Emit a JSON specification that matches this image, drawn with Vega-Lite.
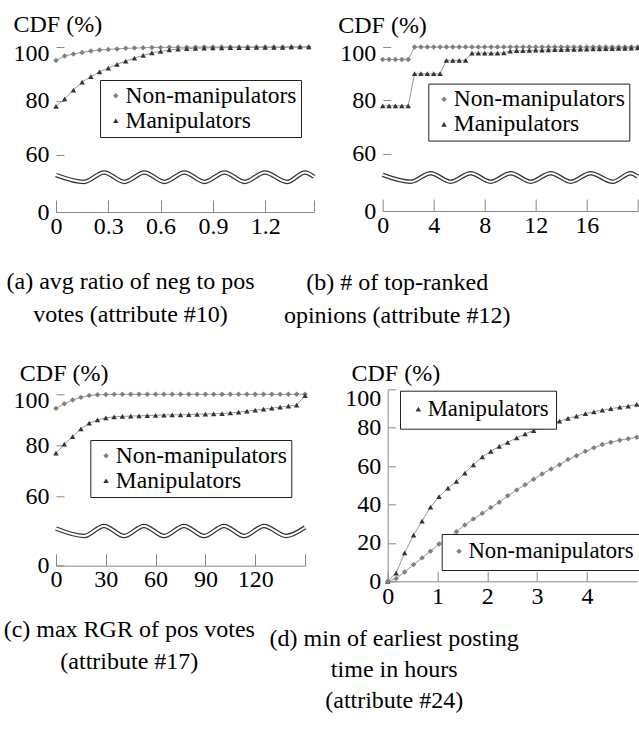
{
"$schema": "https://vega.github.io/schema/vega-lite/v6.json",
"background": "white",
"padding": {"left": 3, "top": 12, "right": 0, "bottom": 0},
"config": {
  "view": {"stroke": null},
  "font": "Liberation Serif",
  "style": {"guide-label": {"font": "Liberation Serif"}, "guide-title": {"font": "Liberation Serif"}},
  "axis": {"labelFont": "Liberation Serif", "labelFontSize": 24, "labelColor": "#000", "tickColor": "#888", "domainColor": "#888", "tickWidth": 1, "domainWidth": 1, "grid": false, "labelFlush": false, "labelOverlap": false, "titleFont": "Liberation Serif", "titleFontSize": 24, "titleFontWeight": "normal", "titleColor": "#000", "titlePadding": 0},
  "legend": {"labelFont": "Liberation Serif", "labelFontSize": 23.5, "labelColor": "#000", "labelLimit": 400, "strokeColor": "#222", "fillColor": "#fff", "padding": 4, "rowPadding": 0, "symbolSize": 30, "labelOffset": -2, "direction": "vertical"},
  "title": {"font": "Liberation Serif", "fontSize": 24, "fontWeight": "normal", "color": "#000"}
},
"datasets": {
  "a": [
    {"x":0,"Non-manipulators":95.0,"Manipulators":78},{"x":0.05,"Non-manipulators":96.7,"Manipulators":80.8},{"x":0.1,"Non-manipulators":97.4,"Manipulators":84},{"x":0.15,"Non-manipulators":98,"Manipulators":87},{"x":0.2,"Non-manipulators":98.5,"Manipulators":89},{"x":0.25,"Non-manipulators":98.9,"Manipulators":90.8},{"x":0.3,"Non-manipulators":99.1,"Manipulators":92.2},{"x":0.35,"Non-manipulators":99.3,"Manipulators":93.6},{"x":0.4,"Non-manipulators":99.5,"Manipulators":94.8},{"x":0.45,"Non-manipulators":99.6,"Manipulators":95.9},{"x":0.5,"Non-manipulators":99.7,"Manipulators":96.9},{"x":0.55,"Non-manipulators":99.8,"Manipulators":97.8},{"x":0.6,"Non-manipulators":99.85,"Manipulators":98.4},{"x":0.65,"Non-manipulators":99.9,"Manipulators":98.9},{"x":0.7,"Non-manipulators":99.9,"Manipulators":99.2},{"x":0.75,"Non-manipulators":99.95,"Manipulators":99.4},{"x":0.8,"Non-manipulators":99.95,"Manipulators":99.5},{"x":0.85,"Non-manipulators":100,"Manipulators":99.6},{"x":0.9,"Non-manipulators":100,"Manipulators":99.7},{"x":0.95,"Non-manipulators":100,"Manipulators":99.7},{"x":1,"Non-manipulators":100,"Manipulators":99.8},{"x":1.05,"Non-manipulators":100,"Manipulators":99.8},{"x":1.1,"Non-manipulators":100,"Manipulators":99.8},{"x":1.15,"Non-manipulators":100,"Manipulators":99.9},{"x":1.2,"Non-manipulators":100,"Manipulators":99.9},{"x":1.25,"Non-manipulators":100,"Manipulators":99.9},{"x":1.3,"Non-manipulators":100,"Manipulators":99.9},{"x":1.35,"Non-manipulators":100,"Manipulators":100},{"x":1.4,"Non-manipulators":100,"Manipulators":100},{"x":1.45,"Non-manipulators":100,"Manipulators":100}
  ],
  "b": [
    {"x":0,"Non-manipulators":95.3,"Manipulators":78},{"x":0.5,"Non-manipulators":95.3,"Manipulators":78},{"x":1,"Non-manipulators":95.3,"Manipulators":78},{"x":1.5,"Non-manipulators":95.3,"Manipulators":78},{"x":2,"Non-manipulators":95.3,"Manipulators":78},{"x":2.5,"Non-manipulators":100,"Manipulators":90},{"x":3,"Non-manipulators":100,"Manipulators":90},{"x":3.5,"Non-manipulators":100,"Manipulators":90},{"x":4,"Non-manipulators":100,"Manipulators":90},{"x":4.5,"Non-manipulators":100,"Manipulators":90},{"x":5,"Non-manipulators":100,"Manipulators":95},{"x":5.5,"Non-manipulators":100,"Manipulators":95},{"x":6,"Non-manipulators":100,"Manipulators":95},{"x":6.5,"Non-manipulators":100,"Manipulators":95},{"x":7,"Non-manipulators":100,"Manipulators":97.7},{"x":7.5,"Non-manipulators":100,"Manipulators":97.7},{"x":8,"Non-manipulators":100,"Manipulators":97.7},{"x":8.5,"Non-manipulators":100,"Manipulators":97.7},{"x":9,"Non-manipulators":100,"Manipulators":97.7},{"x":9.5,"Non-manipulators":100,"Manipulators":97.8},{"x":10,"Non-manipulators":100,"Manipulators":98.5},{"x":10.5,"Non-manipulators":100,"Manipulators":98.6},{"x":11,"Non-manipulators":100,"Manipulators":98.6},{"x":11.5,"Non-manipulators":100,"Manipulators":98.7},{"x":12,"Non-manipulators":100,"Manipulators":98.8},{"x":12.5,"Non-manipulators":100,"Manipulators":98.8},{"x":13,"Non-manipulators":100,"Manipulators":98.9},{"x":13.5,"Non-manipulators":100,"Manipulators":99},{"x":14,"Non-manipulators":100,"Manipulators":99},{"x":14.5,"Non-manipulators":100,"Manipulators":99.1},{"x":15,"Non-manipulators":100,"Manipulators":99.1},{"x":15.5,"Non-manipulators":100,"Manipulators":99.2},{"x":16,"Non-manipulators":100,"Manipulators":99.2},{"x":16.5,"Non-manipulators":100,"Manipulators":99.3},{"x":17,"Non-manipulators":100,"Manipulators":99.3},{"x":17.5,"Non-manipulators":100,"Manipulators":99.4},{"x":18,"Non-manipulators":100,"Manipulators":99.4},{"x":18.5,"Non-manipulators":100,"Manipulators":99.5},{"x":19,"Non-manipulators":100,"Manipulators":99.5},{"x":19.5,"Non-manipulators":100,"Manipulators":99.6},{"x":20,"Non-manipulators":100,"Manipulators":99.7}
  ],
  "c": [
    {"x":0,"Non-manipulators":94.5,"Manipulators":77},{"x":5,"Non-manipulators":96.3,"Manipulators":80.5},{"x":10,"Non-manipulators":97.8,"Manipulators":83.5},{"x":15,"Non-manipulators":98.8,"Manipulators":86.5},{"x":20,"Non-manipulators":99.5,"Manipulators":88.7},{"x":25,"Non-manipulators":99.8,"Manipulators":90},{"x":30,"Non-manipulators":99.9,"Manipulators":90.8},{"x":35,"Non-manipulators":100,"Manipulators":91.2},{"x":40,"Non-manipulators":100,"Manipulators":91.4},{"x":45,"Non-manipulators":100,"Manipulators":91.5},{"x":50,"Non-manipulators":100,"Manipulators":91.6},{"x":55,"Non-manipulators":100,"Manipulators":91.7},{"x":60,"Non-manipulators":100,"Manipulators":91.8},{"x":65,"Non-manipulators":100,"Manipulators":91.9},{"x":70,"Non-manipulators":100,"Manipulators":92},{"x":75,"Non-manipulators":100,"Manipulators":92},{"x":80,"Non-manipulators":100,"Manipulators":92.1},{"x":85,"Non-manipulators":100,"Manipulators":92.2},{"x":90,"Non-manipulators":100,"Manipulators":92.3},{"x":95,"Non-manipulators":100,"Manipulators":92.4},{"x":100,"Non-manipulators":100,"Manipulators":92.5},{"x":105,"Non-manipulators":100,"Manipulators":92.7},{"x":110,"Non-manipulators":100,"Manipulators":93},{"x":115,"Non-manipulators":100,"Manipulators":93.4},{"x":120,"Non-manipulators":100,"Manipulators":93.8},{"x":125,"Non-manipulators":100,"Manipulators":94.2},{"x":130,"Non-manipulators":100,"Manipulators":94.6},{"x":135,"Non-manipulators":100,"Manipulators":95},{"x":140,"Non-manipulators":100,"Manipulators":95.4},{"x":145,"Non-manipulators":100,"Manipulators":95.8},{"x":150,"Non-manipulators":100,"Manipulators":99.5}
  ],
  "d": [
    {"x":0,"Non-manipulators":0,"Manipulators":0},{"x":0.17,"Non-manipulators":1.4,"Manipulators":4.3},{"x":0.34,"Non-manipulators":4.9,"Manipulators":14.8},{"x":0.52,"Non-manipulators":8.7,"Manipulators":24.1},{"x":0.69,"Non-manipulators":12.2,"Manipulators":31.4},{"x":0.86,"Non-manipulators":15.7,"Manipulators":38.6},{"x":1.03,"Non-manipulators":19.4,"Manipulators":44.1},{"x":1.21,"Non-manipulators":22.3,"Manipulators":48.5},{"x":1.38,"Non-manipulators":25.8,"Manipulators":52},{"x":1.55,"Non-manipulators":29.3,"Manipulators":56.4},{"x":1.72,"Non-manipulators":32.4,"Manipulators":60.7},{"x":1.9,"Non-manipulators":35.4,"Manipulators":64.8},{"x":2.07,"Non-manipulators":38.4,"Manipulators":67.7},{"x":2.24,"Non-manipulators":41.2,"Manipulators":70.3},{"x":2.41,"Non-manipulators":44.5,"Manipulators":72.4},{"x":2.59,"Non-manipulators":47.6,"Manipulators":74.7},{"x":2.76,"Non-manipulators":50.3,"Manipulators":76.8},{"x":2.93,"Non-manipulators":53.2,"Manipulators":78.5},{"x":3.1,"Non-manipulators":55.9,"Manipulators":80.3},{"x":3.28,"Non-manipulators":58.5,"Manipulators":82},{"x":3.45,"Non-manipulators":60.7,"Manipulators":83.4},{"x":3.62,"Non-manipulators":63.4,"Manipulators":84.8},{"x":3.79,"Non-manipulators":65.4,"Manipulators":86},{"x":3.97,"Non-manipulators":67.7,"Manipulators":87.3},{"x":4.14,"Non-manipulators":69.5,"Manipulators":88.3},{"x":4.31,"Non-manipulators":71.2,"Manipulators":89.2},{"x":4.48,"Non-manipulators":72.4,"Manipulators":89.9},{"x":4.66,"Non-manipulators":73.5,"Manipulators":90.7},{"x":4.83,"Non-manipulators":74.3,"Manipulators":91.3},{"x":5,"Non-manipulators":75,"Manipulators":92.1}
  ],
  "waveA": [
    {"x":0,"cdf":43},{"x":0.161,"cdf":35},{"x":0.276,"cdf":46},{"x":0.392,"cdf":35},{"x":0.507,"cdf":46},{"x":0.622,"cdf":35},{"x":0.737,"cdf":46},{"x":0.852,"cdf":35},{"x":0.967,"cdf":46},{"x":1.083,"cdf":35},{"x":1.198,"cdf":46},{"x":1.325,"cdf":35},{"x":1.428,"cdf":46},{"x":1.48,"cdf":41}
  ],
  "waveB": [
    {"x":0,"cdf":42},{"x":2.2,"cdf":34},{"x":3.76,"cdf":44},{"x":5.33,"cdf":34},{"x":6.9,"cdf":44},{"x":8.47,"cdf":34},{"x":10.04,"cdf":44},{"x":11.61,"cdf":34},{"x":13.18,"cdf":44},{"x":14.75,"cdf":34},{"x":16.31,"cdf":44},{"x":18.04,"cdf":34},{"x":19.45,"cdf":44},{"x":20,"cdf":40}
  ],
  "waveC": [
    {"x":0,"cdf":35},{"x":16.9,"cdf":28},{"x":28.9,"cdf":37.5},{"x":41,"cdf":28},{"x":53,"cdf":37.5},{"x":65.1,"cdf":28},{"x":77.1,"cdf":37.5},{"x":89.2,"cdf":28},{"x":101.2,"cdf":37.5},{"x":113.3,"cdf":28},{"x":125.3,"cdf":37.5},{"x":138.6,"cdf":28},{"x":150,"cdf":36}
  ]
},
"spacing": 342.3,
"bounds": "flush",
"resolve": {"scale": {"x": "independent", "y": "independent", "shape": "independent", "color": "independent"}, "legend": {"shape": "independent", "color": "independent"}},
"vconcat": [
  {
    "hconcat": [
      {
        "width": 258, "height": 165,
        "title": {"text": ["(a) avg ratio of neg to pos", "votes (attribute #10)"], "orient": "bottom", "anchor": "middle", "frame": "group", "dx": -54.5, "offset": 32, "lineHeight": 33},
        "data": {"name": "a"},
        "encoding": {
          "x": {"field": "x", "type": "quantitative", "scale": {"domain": [0, 1.48], "nice": false, "zero": false},
                "axis": {"title": null, "values": [0, 0.3, 0.6, 0.9, 1.2, 1.48], "format": "~r", "labelExpr": "datum.value > 1.3 ? '' : datum.label", "tickSize": -12, "labelPadding": 14}},
          "y": {"field": "cdf", "type": "quantitative", "scale": {"domain": [0, 57, 100], "range": [165, 116, 0], "nice": false, "zero": false},
                "axis": {"title": "CDF (%)", "values": [0, 60, 80, 100], "domain": false, "tickSize": -8, "labelPadding": 15, "labelOffset": {"condition": {"test": "datum.value === 100", "value": 6}, "value": 0}, "titleAngle": 0, "titleAlign": "left", "titleBaseline": "alphabetic", "titleX": -43, "titleY": -16}}
        },
        "layer": [
          {"data": {"name": "waveA"}, "mark": {"type": "line", "interpolate": "monotone", "color": "#333", "strokeWidth": 4.5}, "encoding": {}},
          {"data": {"name": "waveA"}, "mark": {"type": "line", "interpolate": "monotone", "color": "#fff", "strokeWidth": 2}, "encoding": {}},
          {"data": {"values": [{}]}, "mark": {"type": "rule", "color": "#888", "strokeWidth": 1}, "encoding": {"x": {"datum": 0}, "y": {"datum": 57}, "y2": {"datum": 100}}},
          {"data": {"values": [{}]}, "mark": {"type": "rule", "color": "#888", "strokeWidth": 1}, "encoding": {"x": {"datum": 1.48}, "y": {"datum": 57}, "y2": {"datum": 100}}},
          {"data": {"values": [{}]}, "mark": {"type": "rule", "color": "#888", "strokeWidth": 1}, "encoding": {"y": {"datum": 100}, "x": {"datum": 0}, "x2": {"datum": 1.48}}},
          {"transform": [{"fold": ["Non-manipulators", "Manipulators"], "as": ["group", "cdf"]}], "mark": {"type": "line", "color": "#999", "strokeWidth": 1}, "encoding": {"detail": {"field": "group"}}},
          {"transform": [{"fold": ["Non-manipulators", "Manipulators"], "as": ["group", "cdf"]}], "mark": {"type": "point", "filled": true, "opacity": 1, "size": 30},
           "encoding": {
             "shape": {"field": "group", "type": "nominal", "scale": {"domain": ["Non-manipulators", "Manipulators"], "range": ["diamond", "triangle-up"]}, "legend": {"title": null, "orient": "none", "legendX": 44, "legendY": 33}},
             "color": {"field": "group", "type": "nominal", "scale": {"domain": ["Non-manipulators", "Manipulators"], "range": ["#808080", "#333333"]}, "legend": {"title": null, "orient": "none", "legendX": 44, "legendY": 33}}
           }}
        ]
      },
      {
        "width": 255, "height": 164,
        "title": {"text": ["(b) # of top-ranked", "opinions (attribute #12)"], "orient": "bottom", "anchor": "middle", "frame": "group", "dx": -113, "offset": 34, "lineHeight": 33},
        "data": {"name": "b"},
        "encoding": {
          "x": {"field": "x", "type": "quantitative", "scale": {"domain": [0, 20], "nice": false, "zero": false},
                "axis": {"title": null, "values": [0, 4, 8, 12, 16, 20], "format": "~r", "labelExpr": "datum.value > 18 ? '' : datum.label", "tickSize": -12, "labelPadding": 14}},
          "y": {"field": "cdf", "type": "quantitative", "scale": {"domain": [0, 57, 100], "range": [164, 115, 0], "nice": false, "zero": false},
                "axis": {"title": "CDF (%)", "values": [0, 60, 80, 100], "domain": false, "tickSize": -8, "labelPadding": 15, "labelOffset": {"condition": {"test": "datum.value === 100", "value": 6}, "value": 0}, "titleAngle": 0, "titleAlign": "left", "titleBaseline": "alphabetic", "titleX": -45, "titleY": -15}}
        },
        "layer": [
          {"data": {"name": "waveB"}, "mark": {"type": "line", "interpolate": "monotone", "color": "#333", "strokeWidth": 4.5}, "encoding": {}},
          {"data": {"name": "waveB"}, "mark": {"type": "line", "interpolate": "monotone", "color": "#fff", "strokeWidth": 2}, "encoding": {}},
          {"data": {"values": [{}]}, "mark": {"type": "rule", "color": "#888", "strokeWidth": 1}, "encoding": {"x": {"datum": 0}, "y": {"datum": 57}, "y2": {"datum": 100}}},
          {"data": {"values": [{}]}, "mark": {"type": "rule", "color": "#888", "strokeWidth": 1}, "encoding": {"x": {"datum": 20}, "y": {"datum": 57}, "y2": {"datum": 100}}},
          {"data": {"values": [{}]}, "mark": {"type": "rule", "color": "#888", "strokeWidth": 1}, "encoding": {"y": {"datum": 100}, "x": {"datum": 0}, "x2": {"datum": 20}}},
          {"transform": [{"fold": ["Non-manipulators", "Manipulators"], "as": ["group", "cdf"]}], "mark": {"type": "line", "color": "#999", "strokeWidth": 1}, "encoding": {"detail": {"field": "group"}}},
          {"transform": [{"fold": ["Non-manipulators", "Manipulators"], "as": ["group", "cdf"]}], "mark": {"type": "point", "filled": true, "opacity": 1, "size": 30},
           "encoding": {
             "shape": {"field": "group", "type": "nominal", "scale": {"domain": ["Non-manipulators", "Manipulators"], "range": ["diamond", "triangle-up"]}, "legend": {"title": null, "orient": "none", "legendX": 45.6, "legendY": 36.6}},
             "color": {"field": "group", "type": "nominal", "scale": {"domain": ["Non-manipulators", "Manipulators"], "range": ["#808080", "#333333"]}, "legend": {"title": null, "orient": "none", "legendX": 45.6, "legendY": 36.6}}
           }}
        ]
      }
    ],
    "spacing": 68.7,
    "bounds": "flush",
    "resolve": {"scale": {"x": "independent", "y": "independent", "shape": "independent", "color": "independent"}, "legend": {"shape": "independent", "color": "independent"}}
  },
  {
    "hconcat": [
      {
        "width": 249, "height": 176.4,
        "title": {"text": ["(c) max RGR of pos votes", "(attribute #17)"], "orient": "bottom", "anchor": "middle", "frame": "group", "dx": -51.2, "offset": 26, "lineHeight": 32},
        "data": {"name": "c"},
        "encoding": {
          "x": {"field": "x", "type": "quantitative", "scale": {"domain": [0, 150], "nice": false, "zero": false},
                "axis": {"title": null, "values": [0, 30, 60, 90, 120, 150], "format": "~r", "labelExpr": "datum.value > 130 ? '' : datum.label", "tickSize": -12, "labelPadding": 14}},
          "y": {"field": "cdf", "type": "quantitative", "scale": {"domain": [0, 56.5, 100], "range": [176.4, 116.4, 5], "nice": false, "zero": false},
                "axis": {"title": "CDF (%)", "values": [0, 60, 80, 100], "domain": false, "tickSize": -8, "labelPadding": 15, "labelOffset": {"condition": {"test": "datum.value === 100", "value": 6}, "value": 0}, "titleAngle": 0, "titleAlign": "left", "titleBaseline": "alphabetic", "titleX": -36.7, "titleY": -9}}
        },
        "layer": [
          {"data": {"name": "waveC"}, "mark": {"type": "line", "interpolate": "monotone", "color": "#333", "strokeWidth": 4.5}, "encoding": {}},
          {"data": {"name": "waveC"}, "mark": {"type": "line", "interpolate": "monotone", "color": "#fff", "strokeWidth": 2}, "encoding": {}},
          {"data": {"values": [{}]}, "mark": {"type": "rule", "color": "#888", "strokeWidth": 1}, "encoding": {"x": {"datum": 0}, "y": {"datum": 56.5}, "y2": {"datum": 100}}},
          {"data": {"values": [{}]}, "mark": {"type": "rule", "color": "#888", "strokeWidth": 1}, "encoding": {"x": {"datum": 150}, "y": {"datum": 56.5}, "y2": {"datum": 100}}},
          {"data": {"values": [{}]}, "mark": {"type": "rule", "color": "#888", "strokeWidth": 1}, "encoding": {"y": {"datum": 100}, "x": {"datum": 0}, "x2": {"datum": 150}}},
          {"transform": [{"fold": ["Non-manipulators", "Manipulators"], "as": ["group", "cdf"]}], "mark": {"type": "line", "color": "#999", "strokeWidth": 1}, "encoding": {"detail": {"field": "group"}}},
          {"transform": [{"fold": ["Non-manipulators", "Manipulators"], "as": ["group", "cdf"]}], "mark": {"type": "point", "filled": true, "opacity": 1, "size": 30},
           "encoding": {
             "shape": {"field": "group", "type": "nominal", "scale": {"domain": ["Non-manipulators", "Manipulators"], "range": ["diamond", "triangle-up"]}, "legend": {"title": null, "orient": "none", "legendX": 34.3, "legendY": 50.7}},
             "color": {"field": "group", "type": "nominal", "scale": {"domain": ["Non-manipulators", "Manipulators"], "range": ["#808080", "#333333"]}, "legend": {"title": null, "orient": "none", "legendX": 34.3, "legendY": 50.7}}
           }}
        ]
      },
      {
        "width": 249, "height": 192,
        "title": {"text": ["(d) min of earliest posting", "time in hours", "(attribute #24)"], "orient": "bottom", "anchor": "middle", "frame": "group", "dx": -118, "offset": 19, "lineHeight": 31},
        "data": {"name": "d"},
        "encoding": {
          "x": {"field": "x", "type": "quantitative", "scale": {"domain": [0, 5], "nice": false, "zero": false},
                "axis": {"title": null, "values": [0, 1, 2, 3, 4], "format": "~r", "tickSize": -10, "labelPadding": 13}},
          "y": {"field": "cdf", "type": "quantitative", "scale": {"domain": [0, 100], "nice": false, "zero": false},
                "axis": {"title": "CDF (%)", "values": [0, 20, 40, 60, 80, 100], "domain": true, "tickSize": -8, "labelPadding": 15, "labelOffset": {"condition": {"test": "datum.value === 100", "value": 9}, "value": 0}, "titleAngle": 0, "titleAlign": "left", "titleBaseline": "alphabetic", "titleX": -36.7, "titleY": -9}}
        },
        "layer": [
          {"data": {"values": [{}]}, "mark": {"type": "rule", "color": "#888", "strokeWidth": 1}, "encoding": {"x": {"datum": 5}, "y": {"datum": 0}, "y2": {"datum": 100}}},
          {"data": {"values": [{}]}, "mark": {"type": "rule", "color": "#888", "strokeWidth": 1}, "encoding": {"y": {"datum": 100}, "x": {"datum": 0}, "x2": {"datum": 5}}},
          {"transform": [{"fold": ["Non-manipulators", "Manipulators"], "as": ["group", "cdf"]}], "mark": {"type": "line", "color": "#999", "strokeWidth": 1}, "encoding": {"detail": {"field": "group"}}},
          {"transform": [{"fold": ["Non-manipulators", "Manipulators"], "as": ["group", "cdf"]}, {"filter": "datum.group === 'Manipulators'"}], "mark": {"type": "point", "filled": true, "opacity": 1, "size": 30},
           "encoding": {
             "shape": {"field": "group", "type": "nominal", "scale": {"domain": ["Manipulators"], "range": ["triangle-up"]}, "legend": {"title": null, "orient": "none", "legendX": 12.3, "legendY": 1.4, "labelFontSize": 22.7, "padding": 7}},
             "color": {"field": "group", "type": "nominal", "scale": {"domain": ["Manipulators"], "range": ["#333333"]}, "legend": {"title": null, "orient": "none", "legendX": 12.3, "legendY": 1.4, "labelFontSize": 22.7, "padding": 7}}
           }},
          {"transform": [{"fold": ["Non-manipulators", "Manipulators"], "as": ["group", "cdf"]}, {"filter": "datum.group === 'Non-manipulators'"}], "mark": {"type": "point", "filled": true, "opacity": 1, "size": 30},
           "encoding": {
             "shape": {"field": "group", "type": "nominal", "scale": {"domain": ["Non-manipulators"], "range": ["diamond"]}, "legend": {"title": null, "orient": "none", "legendX": 54, "legendY": 144.7, "labelFontSize": 22.7, "padding": 6}},
             "color": {"field": "group", "type": "nominal", "scale": {"domain": ["Non-manipulators"], "range": ["#808080"]}, "legend": {"title": null, "orient": "none", "legendX": 54, "legendY": 144.7, "labelFontSize": 22.7, "padding": 6}}
           }}
        ],
        "resolve": {"scale": {"shape": "independent", "color": "independent"}, "legend": {"shape": "independent", "color": "independent"}}
      }
    ],
    "spacing": 82.7,
    "bounds": "flush",
    "resolve": {"scale": {"x": "independent", "y": "independent", "shape": "independent", "color": "independent"}, "legend": {"shape": "independent", "color": "independent"}}
  }
]
}
